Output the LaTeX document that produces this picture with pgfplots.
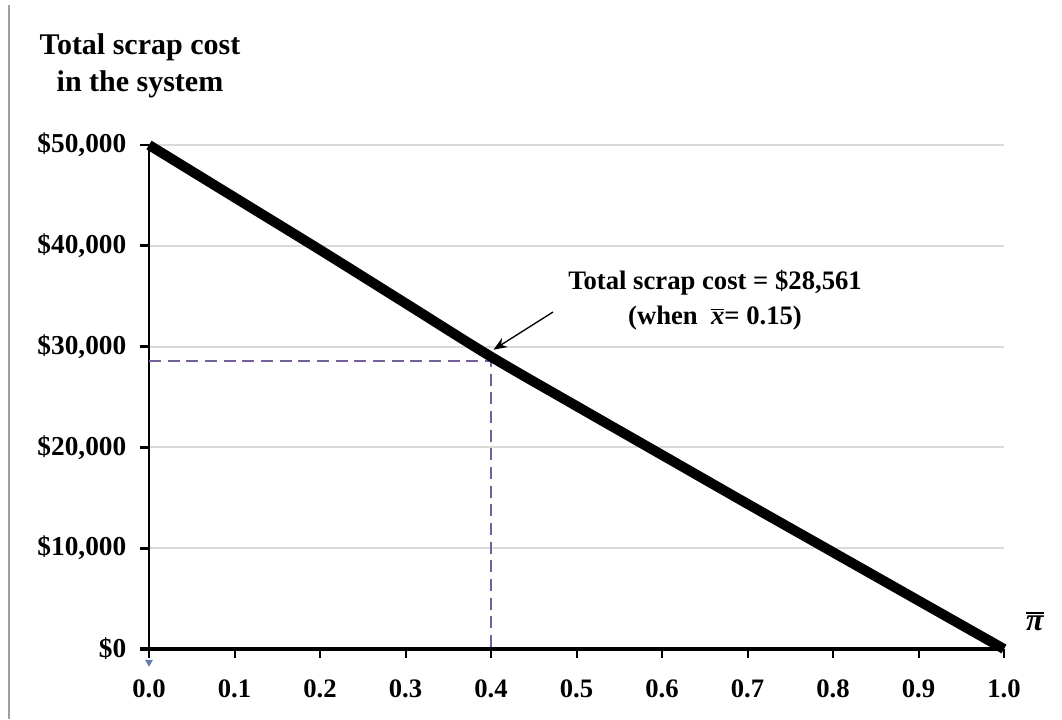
\documentclass[border=0pt]{standalone}
\usepackage{fontspec}
\setmainfont{Liberation Serif}
\usepackage{pgfplots}
\pgfplotsset{compat=1.18}
\usetikzlibrary{arrows.meta}
\definecolor{dashpurple}{RGB}{115,95,155}
\definecolor{gridgray}{RGB}{218,218,218}
\definecolor{markblue}{RGB}{95,125,170}
\newcommand\obar[2]{\leavevmode\vbox{\hrule height #1\kern1.5pt\hbox{#2}}}
\begin{document}
\begin{tikzpicture}
\path[use as bounding box] (0pt,0pt) rectangle (796.5pt,539.25pt);
\draw[gray!75, line width=1.5pt] (6.75pt,0pt) -- (6.75pt,535.5pt);
\node[font=\bfseries\fontsize{22.5}{28}\selectfont, align=center] at (105pt,490pt) {Total scrap cost\\in the system};
\begin{axis}[
  at={(111.75pt,52.5pt)}, anchor=south west,
  scale only axis, width=641.25pt, height=378pt,
  xmin=0, xmax=1, ymin=0, ymax=50000,
  clip=false,
  axis lines*=left,
  x axis line style={line width=3.5pt, black, -},
  y axis line style={line width=2.2pt, black, -},
  tick align=outside,
  major tick length=6.5pt,
  xtick={0,0.1,0.2,0.3,0.4,0.5,0.6,0.7,0.8,0.9,1.0},
  xticklabels={0.0,0.1,0.2,0.3,0.4,0.5,0.6,0.7,0.8,0.9,1.0},
  ytick={0,10000,20000,30000,40000,50000},
  yticklabels={{\$0},{\$10,000},{\$20,000},{\$30,000},{\$40,000},{\$50,000}},
  x tick style={black, line width=1.5pt},
  y tick style={black, line width=2.2pt},
  ymajorgrids,
  grid style={gridgray, line width=1.5pt},
  xticklabel style={font=\bfseries\fontsize{20}{24}\selectfont, yshift=-13pt},
  yticklabel style={font=\bfseries\fontsize{20.5}{24}\selectfont, xshift=-7pt},
  scaled y ticks=false,
]
\addplot[dashpurple, line width=1pt, dash pattern=on 9pt off 5pt] coordinates {(0,28561) (0.4,28561) (0.4,0)};
\addplot[black, line width=7.5pt, line join=round, smooth, tension=0.5] coordinates {(0,50000) (0.1,44800) (0.2,39600) (0.3,34300) (0.4,29000) (0.5,24100) (0.6,19250) (0.7,14400) (0.8,9600) (0.9,4800) (1,0)};
\addplot[only marks, mark=triangle*, mark size=3pt, markblue, mark options={rotate=180}] coordinates {(0,-1300)};
\draw[black, line width=3.5pt] (axis cs:-0.0105,0) -- (axis cs:0.01,0);
\node[font=\bfseries\fontsize{20}{26}\selectfont, align=center] at (axis cs:0.662,34600)
  {Total scrap cost = \$28,561\\(when\ \ \obar{1.2pt}{\itshape x}= 0.15)};
\draw[black, line width=1pt, -{Stealth[length=10pt,width=8pt]}] (axis cs:0.4725,33430) -- (axis cs:0.403,29700);
\node[font=\bfseries\fontsize{24}{28}\selectfont] at (axis cs:1.036,2700) {\obar{1.5pt}{\itshape π}};
\end{axis}
\end{tikzpicture}
\end{document}
